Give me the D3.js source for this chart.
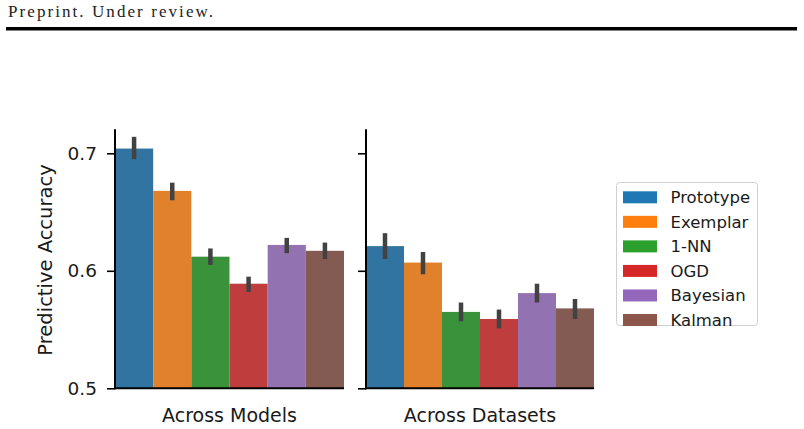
<!DOCTYPE html>
<html>
<head>
<meta charset="utf-8">
<script src="https://cdn.jsdelivr.net/npm/d3@7"></script>
<style>
  body { margin: 0; background: #fff; }
  svg { display: block; }
</style>
</head>
<body>
<svg id="chart" width="804" height="429"></svg>
<script>
const models = ["Prototype", "Exemplar", "1-NN", "OGD", "Bayesian", "Kalman"]
const panels = ["Across Models", "Across Datasets"]

// mean accuracy per model, one array per panel
const acrossModels = [0.704, 0.668, 0.612, 0.589, 0.622, 0.617]
const acrossDatasets = [0.621, 0.607, 0.565, 0.559, 0.581, 0.568]

// confidence interval bounds
const modelsLo = [0.695, 0.660, 0.605, 0.582, 0.615, 0.610]
const modelsHi = [0.714, 0.675, 0.619, 0.595, 0.628, 0.624]
const datasetsLo = [0.610, 0.597, 0.557, 0.551, 0.573, 0.559]
const datasetsHi = [0.632, 0.616, 0.573, 0.567, 0.589, 0.576]

const yTicks = [0.5, 0.6, 0.7]

const barColors = ["#3274a1", "#e1812c", "#3a923a", "#c03d3e", "#9372b2", "#845b53"]
const legendColors = ["#1f77b4", "#ff7f0e", "#2ca02c", "#d62728", "#9467bd", "#8c564b"]

const svg = d3.select("#chart")
const font = "DejaVu Sans, sans-serif"

// header
svg.append("text")
  .attr("x", 8).attr("y", 17.3)
  .attr("font-family", "Liberation Serif, serif")
  .attr("font-size", 17)
  .attr("textLength", 205)
  .attr("lengthAdjust", "spacing")
  .attr("fill", "#222")
  .text("Preprint. Under review.")
svg.append("rect")
  .attr("x", 6).attr("y", 27).attr("width", 791).attr("height", 3.5)
  .attr("fill", "#000")

const y = d3.scaleLinear().domain([0.5, 0.7204]).range([388.3, 129.3])

const panelData = [
  { name: panels[0], vals: acrossModels, lo: modelsLo, hi: modelsHi, range: [115, 344] },
  { name: panels[1], vals: acrossDatasets, lo: datasetsLo, hi: datasetsHi, range: [366, 594] }
]

panelData.forEach(p => {
  const x = d3.scaleBand().domain(models).range(p.range).padding(0)
  const g = svg.append("g")

  g.selectAll("rect.bar").data(models)
    .join("rect")
    .attr("class", "bar")
    .attr("x", d => x(d))
    .attr("width", x.bandwidth())
    .attr("y", (d, i) => y(p.vals[i]))
    .attr("height", (d, i) => y(0.5) - y(p.vals[i]))
    .attr("fill", (d, i) => barColors[i])

  g.selectAll("line.err").data(models)
    .join("line")
    .attr("class", "err")
    .attr("x1", d => x(d) + x.bandwidth() / 2)
    .attr("x2", d => x(d) + x.bandwidth() / 2)
    .attr("y1", (d, i) => y(p.lo[i]))
    .attr("y2", (d, i) => y(p.hi[i]))
    .attr("stroke", "#424242")
    .attr("stroke-width", 4.5)

  const axis = g.append("g")
    .attr("transform", `translate(${p.range[0]},0)`)
    .call(d3.axisLeft(y).tickValues(yTicks).tickSize(8).tickPadding(10)
      .tickFormat(i => p.name === panels[0] ? d3.format(".1f")(i) : ""))
  axis.select(".domain").remove()
  axis.selectAll(".tick line").attr("stroke", "#000").attr("stroke-width", 1.6)
  axis.selectAll(".tick text")
    .attr("font-family", font).attr("font-size", 18.5).attr("fill", "#1a1a1a")

  g.append("line")
    .attr("x1", p.range[0]).attr("x2", p.range[0])
    .attr("y1", y.range()[1]).attr("y2", y(0.5) + 1)
    .attr("stroke", "#000").attr("stroke-width", 2)
  g.append("line")
    .attr("x1", p.range[0] - 1).attr("x2", p.range[1])
    .attr("y1", y(0.5)).attr("y2", y(0.5))
    .attr("stroke", "#000").attr("stroke-width", 2)

  g.append("text")
    .attr("x", (p.range[0] + p.range[1]) / 2)
    .attr("y", 422)
    .attr("text-anchor", "middle")
    .attr("font-family", font).attr("font-size", 19).attr("fill", "#1a1a1a")
    .text(p.name)
})

svg.append("text")
  .attr("transform", "translate(52,260) rotate(-90)")
  .attr("text-anchor", "middle")
  .attr("font-family", font).attr("font-size", 19.5).attr("fill", "#1a1a1a")
  .text("Predictive Accuracy")

// legend
const legend = svg.append("g")
legend.append("rect")
  .attr("x", 616.5).attr("y", 182.5).attr("width", 141).attr("height", 143)
  .attr("rx", 3)
  .attr("fill", "#fff").attr("stroke", "#d0d0d0").attr("stroke-width", 1)

const rowY = d3.scalePoint().domain(models).range([197.3, 320])
const item = legend.selectAll("g.item").data(models)
  .join("g").attr("class", "item")
  .attr("transform", d => `translate(0,${rowY(d)})`)
item.append("rect")
  .attr("x", 623).attr("y", -6).attr("width", 34).attr("height", 12)
  .attr("fill", (d, i) => legendColors[i])
item.append("text")
  .attr("x", 670.5).attr("y", 0).attr("dy", "0.36em")
  .attr("font-family", font).attr("font-size", 16.5).attr("fill", "#1a1a1a")
  .text(d => d)
</script>
</body>
</html>
